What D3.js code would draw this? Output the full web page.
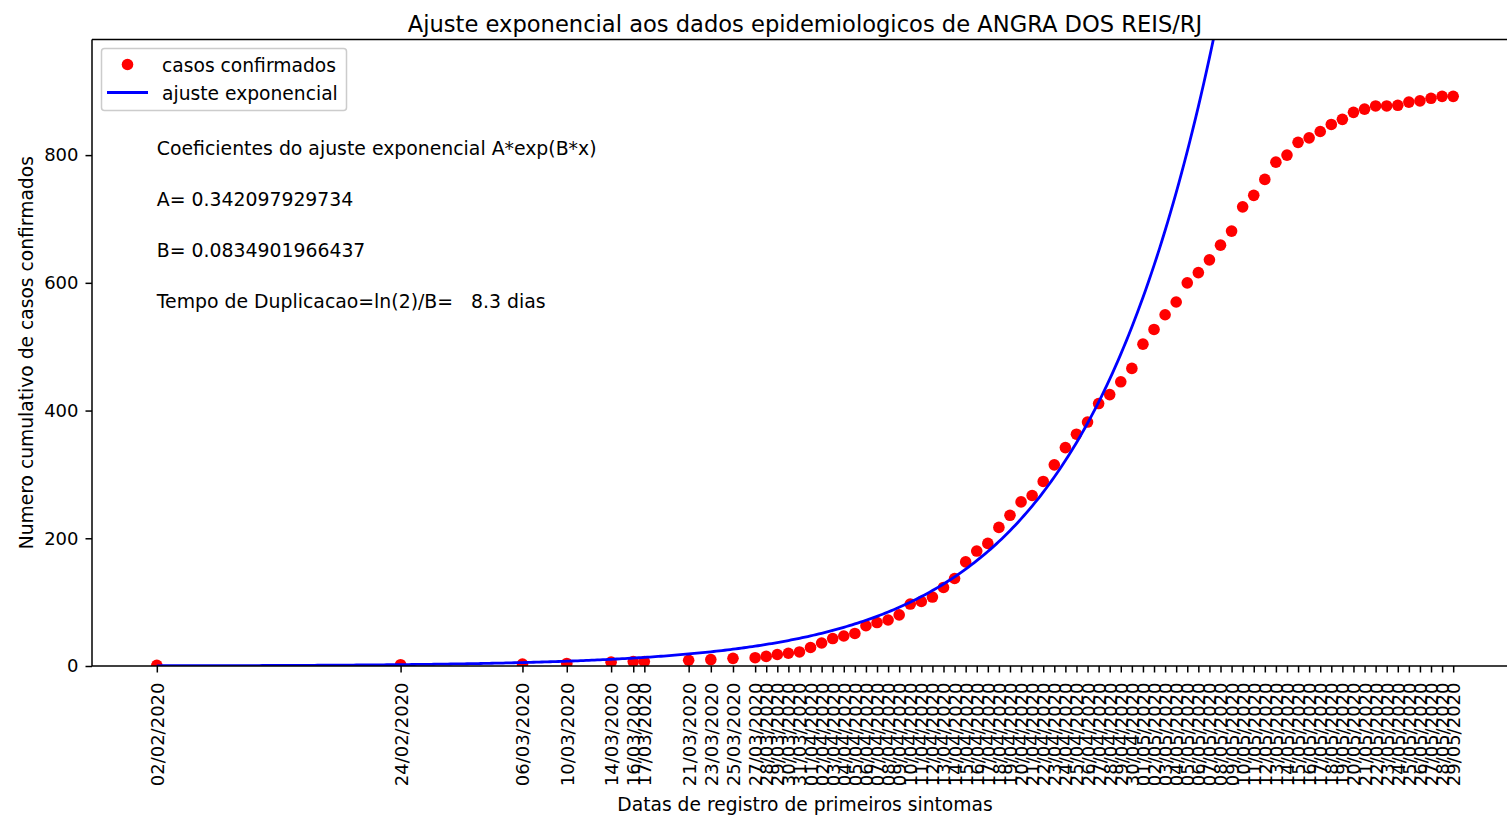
<!DOCTYPE html>
<html>
<head>
<meta charset="utf-8">
<script src="https://cdn.jsdelivr.net/npm/d3@7"></script>
<style>
  html, body { margin: 0; padding: 0; background: #fff; }
  svg { display: block; font-family: "DejaVu Sans", sans-serif; }
</style>
</head>
<body>
<svg id="chart" width="1507" height="816"></svg>
<script>
// Dates of first symptoms (daily from 27/03 onward)
const dates = [
  "02/02/2020", "24/02/2020", "06/03/2020", "10/03/2020", "14/03/2020",
  "16/03/2020", "17/03/2020", "21/03/2020", "23/03/2020", "25/03/2020",
  "27/03/2020", "28/03/2020", "29/03/2020", "30/03/2020", "31/03/2020",
  "01/04/2020", "02/04/2020", "03/04/2020", "04/04/2020", "05/04/2020",
  "06/04/2020", "07/04/2020", "08/04/2020", "09/04/2020", "10/04/2020",
  "11/04/2020", "12/04/2020", "13/04/2020", "14/04/2020", "15/04/2020",
  "16/04/2020", "17/04/2020", "18/04/2020", "19/04/2020", "20/04/2020",
  "21/04/2020", "22/04/2020", "23/04/2020", "24/04/2020", "25/04/2020",
  "26/04/2020", "27/04/2020", "28/04/2020", "29/04/2020", "30/04/2020",
  "01/05/2020", "02/05/2020", "03/05/2020", "04/05/2020", "05/05/2020",
  "06/05/2020", "07/05/2020", "08/05/2020", "09/05/2020", "10/05/2020",
  "11/05/2020", "12/05/2020", "13/05/2020", "14/05/2020", "15/05/2020",
  "16/05/2020", "17/05/2020", "18/05/2020", "19/05/2020", "20/05/2020",
  "21/05/2020", "22/05/2020", "23/05/2020", "24/05/2020", "25/05/2020",
  "26/05/2020", "27/05/2020", "28/05/2020", "29/05/2020"
];

// Cumulative confirmed cases
const casos = [
  1, 2, 3, 4, 6,
  7, 7, 9, 10, 12,
  13, 15, 18, 20, 22,
  29, 36, 43, 47, 51,
  63, 68, 72, 80, 97,
  101, 108, 123, 137, 163,
  180, 192, 217, 236, 257,
  267, 289, 315, 342, 363,
  382, 411, 425, 445, 466,
  504, 527, 550, 570, 600,
  616, 636, 659, 681, 719,
  737, 762, 789, 800, 820,
  827, 837, 848, 856, 867,
  872, 877, 877, 878, 883,
  885, 889, 892, 892
];

// Exponential fit coefficients: y = A*exp(B*x), x in days since the first record
const coefA = 0.342097929734;
const coefB = 0.0834901966437;

const yTicks = [0, 200, 400, 600, 800];

const titulo = "Ajuste exponencial aos dados epidemiologicos de ANGRA DOS REIS/RJ";
const rotuloX = "Datas de registro de primeiros sintomas";
const rotuloY = "Numero cumulativo de casos confirmados";
const anotacoes = [
  "Coeficientes do ajuste exponencial A*exp(B*x)",
  "A= " + coefA,
  "B= " + coefB,
  "Tempo de Duplicacao=ln(2)/B=   " + (Math.LN2 / coefB).toFixed(1) + " dias"
];
const anotacaoY = [800, 720, 640, 560];

const parse = d3.utcParse("%d/%m/%Y");
const DAY = 86400000;
const t0 = parse(dates[0]);
const tN = parse(dates[dates.length - 1]);
const span = (tN - t0);
const pad = span * 0.05;

const svg = d3.select("#chart");
const plot = { left: 92, right: 1518, top: 39.4, bottom: 666 };

const x = d3.scaleUtc()
  .domain([new Date(+t0 - pad), new Date(+tN + pad)])
  .range([plot.left, plot.right]);

const yMax = d3.max(casos) * 1.1;
const y = d3.scaleLinear()
  .domain([0, yMax])
  .range([plot.bottom, plot.top]);

svg.append("defs").append("clipPath").attr("id", "clip")
  .append("rect")
  .attr("x", plot.left).attr("y", plot.top)
  .attr("width", plot.right - plot.left).attr("height", plot.bottom - plot.top);

const pts = dates.map((d, i) => ({ date: parse(d), v: casos[i] }));

// Data points
const gData = svg.append("g").attr("clip-path", "url(#clip)");
gData.selectAll("circle").data(pts).join("circle")
  .attr("cx", d => x(d.date))
  .attr("cy", d => y(d.v))
  .attr("r", 5.8)
  .attr("fill", "#ff0000");

// Fitted curve
const curvePts = d3.range(0, span / DAY + 0.001, 0.25).map(t => ({
  date: new Date(+t0 + t * DAY),
  v: coefA * Math.exp(coefB * t)
}));
gData.append("path")
  .datum(curvePts)
  .attr("fill", "none")
  .attr("stroke", "#0000ff")
  .attr("stroke-width", 2.8)
  .attr("d", d3.line().x(d => x(d.date)).y(d => y(d.v)));

// Axes
const xAxis = d3.axisBottom(x)
  .tickValues(pts.map(d => d.date))
  .tickFormat(d3.utcFormat("%d/%m/%Y"))
  .tickSize(6.5).tickPadding(4);
const gx = svg.append("g")
  .attr("transform", `translate(0,${plot.bottom})`)
  .call(xAxis);
gx.select(".domain").remove();
gx.selectAll(".tick line").attr("stroke", "#000").attr("stroke-width", 1.5);
gx.selectAll(".tick text")
  .attr("font-size", 18)
  .attr("font-family", "DejaVu Sans")
  .attr("fill", "#000")
  .attr("text-anchor", "end")
  .attr("transform", "rotate(-90)")
  .attr("x", -16.5)
  .attr("y", 0)
  .attr("dy", "0.36em");

const yAxis = d3.axisLeft(y).tickValues(yTicks).tickSize(6.5).tickPadding(7);
const gy = svg.append("g")
  .attr("transform", `translate(${plot.left},0)`)
  .call(yAxis);
gy.select(".domain").remove();
gy.selectAll(".tick line").attr("stroke", "#000").attr("stroke-width", 1.5);
gy.selectAll(".tick text")
  .attr("font-size", 18)
  .attr("font-family", "DejaVu Sans")
  .attr("fill", "#000");

// Spines
const spine = svg.append("g").attr("stroke", "#000").attr("stroke-width", 1.5).attr("fill", "none");
spine.append("line").attr("x1", plot.left).attr("x2", plot.right).attr("y1", plot.bottom).attr("y2", plot.bottom);
spine.append("line").attr("x1", plot.left).attr("x2", plot.right).attr("y1", plot.top).attr("y2", plot.top);
spine.append("line").attr("x1", plot.left).attr("x2", plot.left).attr("y1", plot.top).attr("y2", plot.bottom);
spine.append("line").attr("x1", plot.right).attr("x2", plot.right).attr("y1", plot.top).attr("y2", plot.bottom);

// Annotation text with coefficients
svg.append("g").selectAll("text").data(anotacoes).join("text")
  .attr("x", x(t0))
  .attr("y", (d, i) => y(anotacaoY[i]))
  .attr("font-size", 18.85)
  .attr("fill", "#000")
  .style("white-space", "pre")
  .text(d => d);

// Legend
const leg = svg.append("g");
leg.append("rect")
  .attr("x", 101.5).attr("y", 48.5).attr("width", 245).attr("height", 62)
  .attr("rx", 3)
  .attr("fill", "#fff").attr("fill-opacity", 0.8)
  .attr("stroke", "#cccccc").attr("stroke-width", 1.5);
leg.append("circle").attr("cx", 127.5).attr("cy", 64.5).attr("r", 5.8).attr("fill", "#ff0000");
leg.append("line").attr("x1", 107).attr("x2", 148).attr("y1", 92.5).attr("y2", 92.5)
  .attr("stroke", "#0000ff").attr("stroke-width", 2.8);
leg.append("text").attr("x", 162).attr("y", 71.5).attr("font-size", 18.7).text("casos confirmados");
leg.append("text").attr("x", 162).attr("y", 100).attr("font-size", 18.7).text("ajuste exponencial");

// Title and axis labels
const cx = (plot.left + plot.right) / 2;
svg.append("text").attr("x", cx).attr("y", 31.5)
  .attr("text-anchor", "middle").attr("font-size", 22.6).text(titulo);
svg.append("text").attr("x", cx).attr("y", 811)
  .attr("text-anchor", "middle").attr("font-size", 18.7).text(rotuloX);
svg.append("text")
  .attr("transform", `translate(33,${(plot.top + plot.bottom) / 2}) rotate(-90)`)
  .attr("text-anchor", "middle").attr("font-size", 18.7).text(rotuloY);
</script>
</body>
</html>
